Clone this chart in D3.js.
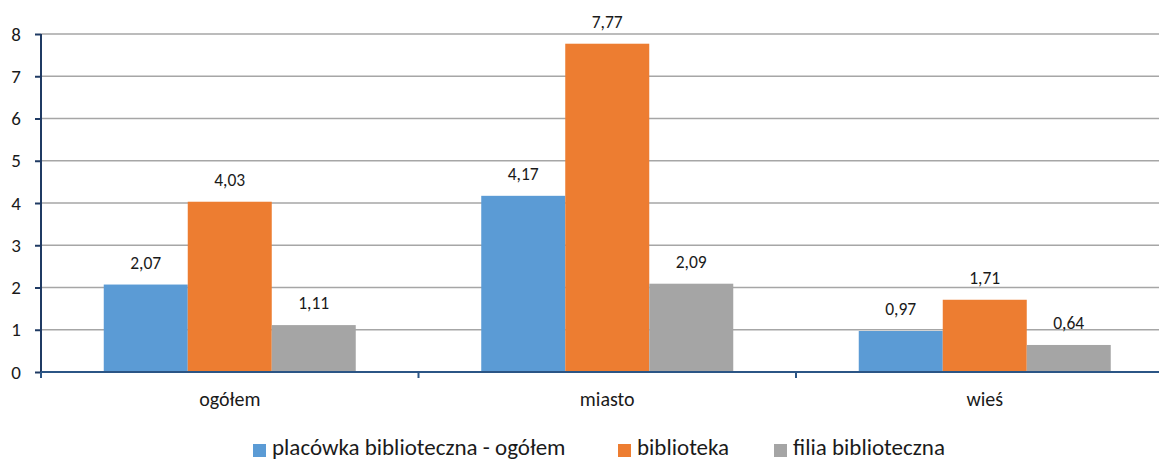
<!DOCTYPE html>
<html><head><meta charset="utf-8">
<script src="https://cdn.jsdelivr.net/npm/d3@7"></script>
<style>
html,body{margin:0;padding:0;background:#fff;}
svg{display:block;font-family:Carlito, Calibri, Lato, sans-serif;}
</style></head>
<body>
<svg id="c" width="1159" height="461"></svg>
<script>
const categories = ["ogółem", "miasto", "wieś"];
const seriesNames = ["placówka biblioteczna - ogółem", "biblioteka", "filia biblioteczna"];
const placowka = [2.07, 4.17, 0.97];
const biblioteka = [4.03, 7.77, 1.71];
const filia = [1.11, 2.09, 0.64];
const yTicks = [0, 1, 2, 3, 4, 5, 6, 7, 8];
const colors = ["#5B9BD5", "#ED7D31", "#A5A5A5"];

const series = [placowka, biblioteka, filia];
const svg = d3.select("#c");
const pLeft = 41, pRight = 1173.5, pTop = 34, pBottom = 372;

const x0 = d3.scaleBand().domain(categories).range([pLeft, pRight]).padding(0);
const x1 = d3.scaleBand().domain(d3.range(series.length)).range([0, x0.bandwidth()]).paddingInner(0).paddingOuter(0.747);
const y = d3.scaleLinear().domain([0, 8]).range([pBottom, pTop]);

// gridlines
svg.append("g").selectAll("line").data(yTicks.filter(d => d > 0)).join("line")
  .attr("x1", pLeft).attr("x2", 1159)
  .attr("y1", d => y(d)).attr("y2", d => y(d))
  .attr("stroke", "#A6A6A6").attr("stroke-width", 1.3);

// bars
const g = svg.append("g");
categories.forEach((c, ci) => {
  series.forEach((s, si) => {
    g.append("rect")
      .attr("x", x0(c) + x1(si))
      .attr("y", y(s[ci]))
      .attr("width", x1.bandwidth())
      .attr("height", y(0) - y(s[ci]))
      .attr("fill", colors[si]);
    g.append("text")
      .attr("x", x0(c) + x1(si) + x1.bandwidth() / 2)
      .attr("y", y(s[ci]) - 16)
      .attr("text-anchor", "middle")
      .attr("font-size", 17.5)
      .attr("fill", "#1a1a1a")
      .text(d3.format(".2f")(s[ci]).replace(".", ","));
  });
});

// y axis
const yAxis = d3.axisLeft(y).tickValues(yTicks).tickSize(6).tickPadding(14).tickFormat(d => d);
const ya = svg.append("g").attr("transform", `translate(${pLeft},0)`).call(yAxis);
ya.select(".domain").attr("stroke", "#1F3A63").attr("stroke-width", 2).attr("d", `M0,${pBottom + 6}V${pTop}`);
ya.selectAll(".tick line").attr("stroke", "#1F3A63").attr("stroke-width", 2);
ya.selectAll(".tick text").attr("font-size", 19).attr("fill", "#1a1a1a").attr("font-family", "Carlito, Calibri, Lato, sans-serif");

// x axis
const xa = svg.append("g").attr("transform", `translate(0,${pBottom})`);
xa.append("line").attr("x1", pLeft).attr("x2", 1159).attr("y1", 0).attr("y2", 0)
  .attr("stroke", "#2B5585").attr("stroke-width", 2);
xa.selectAll("line.tk").data(categories.concat(["end"])).join("line").attr("class", "tk")
  .attr("x1", (d, i) => pLeft + i * x0.step()).attr("x2", (d, i) => pLeft + i * x0.step())
  .attr("y1", 0).attr("y2", 6).attr("stroke", "#2B5585").attr("stroke-width", 2);
xa.selectAll("text").data(categories).join("text")
  .attr("x", d => x0(d) + x0.bandwidth() / 2)
  .attr("y", 34)
  .attr("text-anchor", "middle")
  .attr("font-size", 20)
  .attr("fill", "#1a1a1a")
  .text(d => d);

// legend
const legX = [253, 618, 774];
const leg = svg.append("g");
seriesNames.forEach((n, i) => {
  leg.append("rect").attr("x", legX[i]).attr("y", 444).attr("width", 13).attr("height", 13).attr("fill", colors[i]);
  leg.append("text").attr("x", legX[i] + 19).attr("y", 455).attr("font-size", 23).attr("fill", "#1a1a1a").text(n);
});
</script>
</body></html>
